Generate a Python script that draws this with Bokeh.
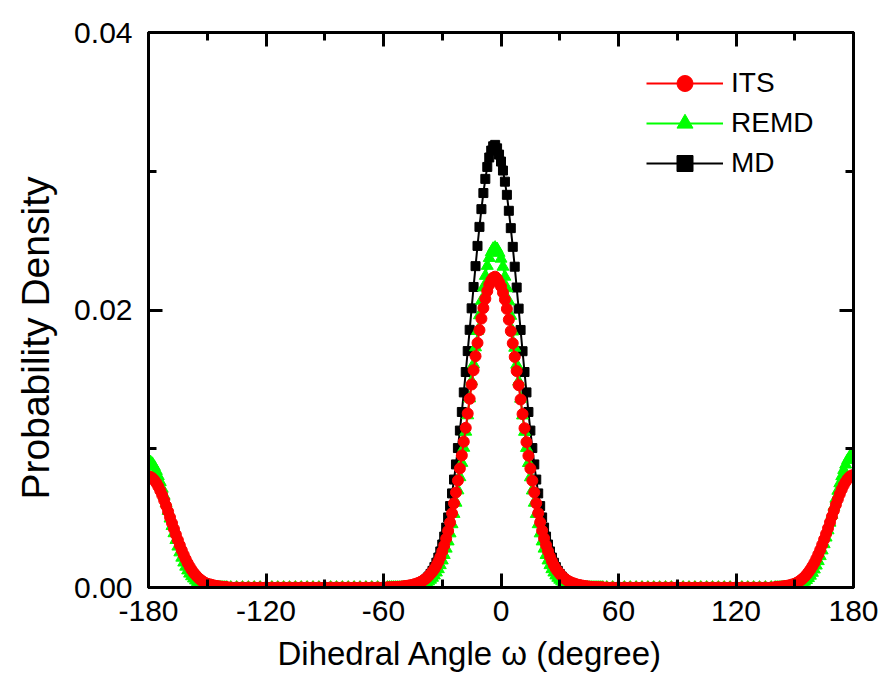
from bokeh.plotting import figure
from bokeh.models import (Range1d, LinearAxis, FixedTicker, NumeralTickFormatter,
                          Legend, LegendItem, CustomJSTickFormatter, Title)
from bokeh.embed import file_html
from bokeh.resources import INLINE

# ---------------- data ----------------
# sampling grid (degrees): 1-degree steps where the curves change, 3-degree steps on the flat parts
x_tail_left = list(range(-180, -139))      # -180 .. -140
x_gap_left = list(range(-138, -59, 3))     # -138 .. -60
x_peak = list(range(-58, 53))              # -58 .. 52
x_gap_right = list(range(54, 139, 3))      # 54 .. 138
x_tail_right = list(range(140, 181))       # 140 .. 180

gap_left = [0.0, 0.0, 0.0, 0.0, 0.0, 0.0, 0.0, 0.0, 0.0,
            0.0, 0.0, 0.0, 0.0, 0.0, 0.0, 0.0, 0.0, 0.0,
            0.0, 0.0, 0.0, 0.0, 0.0, 0.0, 0.0, 0.0, 0.0]
gap_right = [0.0, 0.0, 0.0, 0.0, 0.0, 0.0, 0.0, 0.0, 0.0, 0.0,
             0.0, 0.0, 0.0, 0.0, 0.0, 0.0, 0.0, 0.0, 0.0, 0.0,
             0.0, 0.0, 0.0, 0.0, 0.0, 0.0, 0.0, 0.0, 0.0]

# ITS
its_tail_left = [0.00800, 0.00797, 0.00788, 0.00773, 0.00753, 0.00728, 0.00698, 0.00665,
                 0.00628, 0.00589, 0.00548, 0.00506, 0.00464, 0.00422, 0.00381, 0.00342,
                 0.00304, 0.00268, 0.00235, 0.00204, 0.00176, 0.00151, 0.00128, 0.00108,
                 0.00091, 0.00075, 0.00062, 0.00051, 0.00041, 0.00033, 0.00027, 0.00023,
                 0.00020, 0.00016, 0.00012, 0.00010, 0.00008, 0.00006, 0.00005, 0.00004,
                 0.00003]
its_peak_left = [0.00001, 0.00001, 0.00002, 0.00002, 0.00003, 0.00004, 0.00005, 0.00006,
                 0.00008, 0.00010, 0.00012, 0.00014, 0.00017, 0.00020, 0.00024, 0.00029,
                 0.00034, 0.00041, 0.00048, 0.00058, 0.00068, 0.00082, 0.00098, 0.00114,
                 0.00133, 0.00158, 0.00187, 0.00220, 0.00260, 0.00302, 0.00352, 0.00408,
                 0.00468, 0.00535, 0.00607, 0.00685, 0.00771, 0.00858, 0.00952, 0.01051,
                 0.01151, 0.01254, 0.01360, 0.01463, 0.01566, 0.01667, 0.01763, 0.01855,
                 0.01938, 0.02014, 0.02081, 0.02137, 0.02182, 0.02213, 0.02233, 0.02240]
its_peak_right = [0.02225, 0.02200, 0.02170, 0.02125, 0.02075, 0.02008, 0.01930, 0.01848,
                  0.01760, 0.01662, 0.01560, 0.01458, 0.01355, 0.01250, 0.01148, 0.01048,
                  0.00950, 0.00857, 0.00770, 0.00686, 0.00607, 0.00536, 0.00470, 0.00410,
                  0.00355, 0.00305, 0.00262, 0.00223, 0.00190, 0.00160, 0.00135, 0.00116,
                  0.00099, 0.00083, 0.00070, 0.00059, 0.00049, 0.00042, 0.00035, 0.00030,
                  0.00025, 0.00021, 0.00018, 0.00015, 0.00012, 0.00010, 0.00008, 0.00006,
                  0.00005, 0.00004, 0.00003, 0.00002, 0.00002, 0.00001, 0.00001]
its_tail_right = [0.00003, 0.00004, 0.00005, 0.00006, 0.00008, 0.00010, 0.00012, 0.00015,
                  0.00018, 0.00023, 0.00027, 0.00034, 0.00042, 0.00052, 0.00063, 0.00076,
                  0.00092, 0.00110, 0.00130, 0.00153, 0.00178, 0.00207, 0.00238, 0.00271,
                  0.00308, 0.00346, 0.00386, 0.00427, 0.00470, 0.00512, 0.00555, 0.00596,
                  0.00636, 0.00673, 0.00707, 0.00737, 0.00762, 0.00783, 0.00798, 0.00807,
                  0.00810]

# REMD
remd_tail_left = [0.00910, 0.00905, 0.00892, 0.00870, 0.00840, 0.00803, 0.00760, 0.00712,
                  0.00661, 0.00607, 0.00552, 0.00497, 0.00443, 0.00391, 0.00342, 0.00295,
                  0.00253, 0.00215, 0.00180, 0.00150, 0.00123, 0.00100, 0.00081, 0.00065,
                  0.00051, 0.00040, 0.00031, 0.00024, 0.00018, 0.00014, 0.00010, 0.00007,
                  0.00005, 0.00004, 0.00003, 0.00002, 0.00001, 0.00001, 0.0, 0.0,
                  0.0]
remd_peak_left = [0.0, 0.0, 0.0, 0.0, 0.0, 0.0, 0.0, 0.0,
                  0.00001, 0.00001, 0.00002, 0.00003, 0.00004, 0.00005, 0.00007, 0.00009,
                  0.00012, 0.00016, 0.00021, 0.00027, 0.00035, 0.00044, 0.00056, 0.00070,
                  0.00087, 0.00108, 0.00132, 0.00161, 0.00195, 0.00234, 0.00280, 0.00332,
                  0.00390, 0.00456, 0.00530, 0.00611, 0.00700, 0.00795, 0.00898, 0.01007,
                  0.01123, 0.01241, 0.01363, 0.01486, 0.01609, 0.01731, 0.01849, 0.01962,
                  0.02067, 0.02162, 0.02246, 0.02318, 0.02375, 0.02416, 0.02442, 0.02450]
remd_peak_right = [0.02440, 0.02412, 0.02370, 0.02312, 0.02240, 0.02157, 0.02062, 0.01958,
                   0.01845, 0.01728, 0.01606, 0.01484, 0.01361, 0.01240, 0.01122, 0.01006,
                   0.00897, 0.00794, 0.00699, 0.00611, 0.00530, 0.00456, 0.00390, 0.00332,
                   0.00280, 0.00234, 0.00195, 0.00161, 0.00132, 0.00108, 0.00087, 0.00070,
                   0.00056, 0.00044, 0.00035, 0.00027, 0.00021, 0.00016, 0.00012, 0.00009,
                   0.00007, 0.00005, 0.00004, 0.00003, 0.00002, 0.00001, 0.00001, 0.0,
                   0.0, 0.0, 0.0, 0.0, 0.0, 0.0, 0.0]
remd_tail_right = [0.0, 0.0, 0.0, 0.00001, 0.00001, 0.00002, 0.00003, 0.00004,
                   0.00006, 0.00008, 0.00011, 0.00014, 0.00019, 0.00025, 0.00033, 0.00042,
                   0.00054, 0.00068, 0.00085, 0.00106, 0.00130, 0.00158, 0.00190, 0.00226,
                   0.00267, 0.00312, 0.00360, 0.00412, 0.00467, 0.00524, 0.00582, 0.00640,
                   0.00697, 0.00751, 0.00802, 0.00847, 0.00886, 0.00918, 0.00941, 0.00955,
                   0.00960]

# MD (no visible points in the +/-180 tails)
md_peak_left = [0.0, 0.0, 0.0, 0.0, 0.0, 0.0, 0.00001, 0.00002,
                0.00002, 0.00003, 0.00005, 0.00006, 0.00008, 0.00011, 0.00015, 0.00019,
                0.00025, 0.00031, 0.00040, 0.00050, 0.00063, 0.00079, 0.00098, 0.00120,
                0.00147, 0.00179, 0.00216, 0.00260, 0.00310, 0.00367, 0.00432, 0.00505,
                0.00587, 0.00678, 0.00778, 0.00887, 0.01005, 0.01131, 0.01265, 0.01406,
                0.01553, 0.01704, 0.01857, 0.02012, 0.02166, 0.02316, 0.02462, 0.02599,
                0.02727, 0.02843, 0.02945, 0.03031, 0.03099, 0.03149, 0.03180, 0.03190]
md_peak_right = [0.03165, 0.03120, 0.03070, 0.03005, 0.02925, 0.02830, 0.02715, 0.02590,
                 0.02455, 0.02312, 0.02162, 0.02010, 0.01856, 0.01703, 0.01553, 0.01406,
                 0.01265, 0.01131, 0.01005, 0.00887, 0.00778, 0.00678, 0.00587, 0.00505,
                 0.00432, 0.00367, 0.00310, 0.00260, 0.00216, 0.00179, 0.00147, 0.00120,
                 0.00098, 0.00079, 0.00063, 0.00050, 0.00040, 0.00031, 0.00025, 0.00019,
                 0.00015, 0.00011, 0.00008, 0.00006, 0.00005, 0.00003, 0.00002, 0.00002,
                 0.00001, 0.0, 0.0, 0.0, 0.0, 0.0, 0.0]

its_x = x_tail_left + x_gap_left + x_peak + x_gap_right + x_tail_right
its = its_tail_left + gap_left + its_peak_left + its_peak_right + gap_right + its_tail_right
remd_x = its_x
remd = remd_tail_left + gap_left + remd_peak_left + remd_peak_right + gap_right + remd_tail_right
md_x = x_gap_left + x_peak + x_gap_right
md = gap_left + md_peak_left + md_peak_right + gap_right
assert len(its) == len(its_x) and len(remd) == len(remd_x) and len(md) == len(md_x)

x_ticks = [-180, -120, -60, 0, 60, 120, 180]
x_minor = [-150, -90, -30, 30, 90, 150]
y_ticks = [0.0, 0.02, 0.04]
y_minor = [0.01, 0.03]

series_names = ["ITS", "REMD", "MD"]
x_title = "Dihedral Angle ω (degree)"
y_title = "Probability Density"

# ---------------- figure ----------------
FONT = "Liberation Sans"

p = figure(frame_width=705, frame_height=555,
           min_border_left=148, min_border_right=27,
           min_border_top=32, min_border_bottom=104,
           x_range=Range1d(-180, 180), y_range=Range1d(0, 0.04),
           x_axis_type=None, y_axis_type=None,
           output_backend="svg", toolbar_location=None)
p.outline_line_color = "black"
p.outline_line_width = 3
p.background_fill_color = "white"
p.border_fill_color = "white"


def style_axis(ax, show_labels):
    ax.axis_line_width = 3
    ax.axis_line_color = "black"
    ax.major_tick_line_width = 3
    ax.minor_tick_line_width = 3
    ax.major_tick_in = 14
    ax.major_tick_out = 0
    ax.minor_tick_in = 8
    ax.minor_tick_out = 0
    ax.major_label_text_font = FONT
    ax.major_label_text_font_size = "30px"
    ax.major_label_text_color = "black"
    if not show_labels:
        ax.formatter = CustomJSTickFormatter(code="return ''")
        ax.major_label_text_font_size = "1px"


xb = LinearAxis(ticker=FixedTicker(ticks=x_ticks, minor_ticks=x_minor),
                formatter=NumeralTickFormatter(format="0"))
style_axis(xb, True)
xb.major_label_standoff = 13
p.add_layout(xb, "below")

xt = LinearAxis(ticker=FixedTicker(ticks=x_ticks, minor_ticks=x_minor))
style_axis(xt, False)
p.add_layout(xt, "above")

yl = LinearAxis(ticker=FixedTicker(ticks=y_ticks, minor_ticks=y_minor),
                formatter=NumeralTickFormatter(format="0.00"))
style_axis(yl, True)
yl.major_label_standoff = 16
p.add_layout(yl, "left")

yr = LinearAxis(ticker=FixedTicker(ticks=y_ticks, minor_ticks=y_minor))
style_axis(yr, False)
p.add_layout(yr, "right")

# axis titles as side-panel titles (offset along the frame edge, as in the reference)
p.add_layout(Title(text=x_title, align="left", offset=129, standoff=18,
                   text_font=FONT, text_font_size="33px",
                   text_font_style="normal", text_color="black"), "below")
p.add_layout(Title(text=y_title, align="left", offset=88, standoff=26,
                   vertical_align="top",
                   text_font=FONT, text_font_size="39px",
                   text_font_style="normal", text_color="black"), "left")

# series: MD drawn first, ITS on top
md_l = p.line(md_x, md, line_color="black", line_width=2)
md_s = p.scatter(md_x, md, marker="square", size=9,
                 fill_color="black", line_color="black")
remd_l = p.line(remd_x, remd, line_color="#00FF00", line_width=2)
remd_s = p.scatter(remd_x, remd, marker="triangle", size=12,
                   fill_color="#00FF00", line_color="#00FF00")
its_l = p.line(its_x, its, line_color="#FF0000", line_width=2)
its_s = p.scatter(its_x, its, marker="circle", size=11,
                  fill_color="#FF0000", line_color="#FF0000")

legend = Legend(items=[
    LegendItem(label=series_names[0], renderers=[its_l, its_s]),
    LegendItem(label=series_names[1], renderers=[remd_l, remd_s]),
    LegendItem(label=series_names[2], renderers=[md_l, md_s]),
], location=(498, 404), orientation="vertical",
    glyph_width=77, glyph_height=40, label_height=40, spacing=0,
    padding=0, margin=0, label_standoff=8,
    border_line_color=None, background_fill_alpha=0,
    label_text_font=FONT, label_text_font_size="28px",
    label_text_color="black")
p.add_layout(legend)

open("out.html", "w").write(file_html(p, INLINE))
